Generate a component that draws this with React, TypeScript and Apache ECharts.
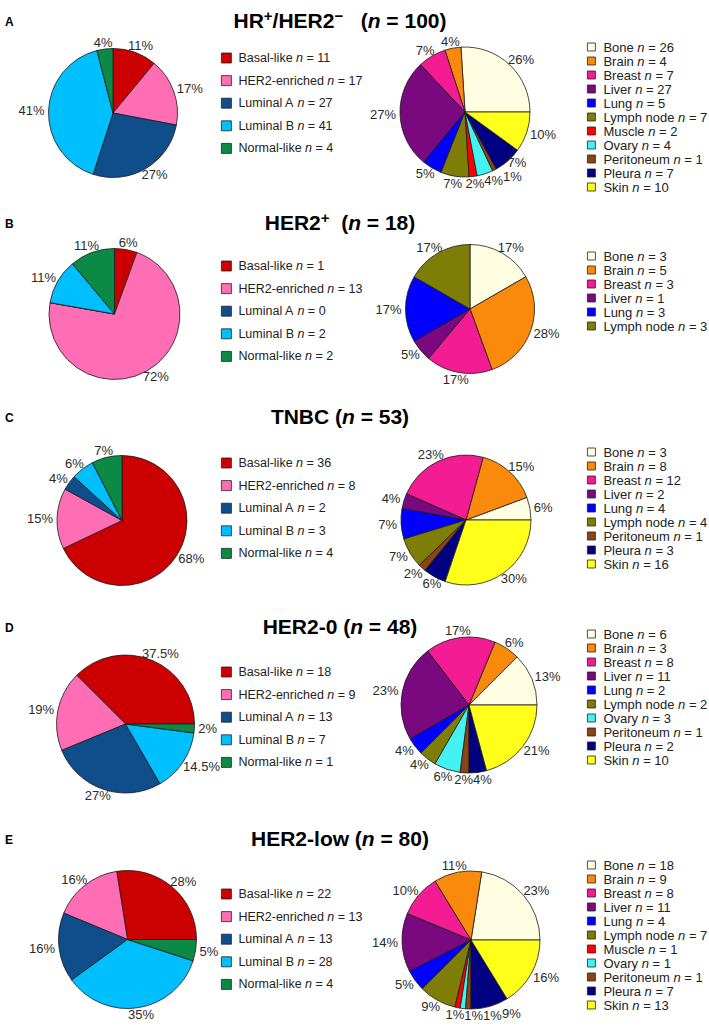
import React, { useEffect, useRef } from "react";
import * as echarts from "echarts";

// ---------- categories ----------
const SUBTYPES = ["Basal-like", "HER2-enriched", "Luminal A", "Luminal B", "Normal-like"];
const SITES_ALL = ["Bone", "Brain", "Breast", "Liver", "Lung", "Lymph node", "Muscle", "Ovary", "Peritoneum", "Pleura", "Skin"];

// ---------- panel A: HR+/HER2- (n = 100) ----------
const A_SUB_N = [11, 17, 27, 41, 4];
const A_SUB_LABELS = ["11%", "17%", "27%", "41%", "4%"];
const A_SITES = SITES_ALL;
const A_SITE_N = [26, 4, 7, 27, 5, 7, 2, 4, 1, 7, 10];
const A_SITE_LABELS = ["26%", "4%", "7%", "27%", "5%", "7%", "2%", "4%", "1%", "7%", "10%"];

// ---------- panel B: HER2+ (n = 18) ----------
const B_SUB_N = [1, 13, 0, 2, 2];
const B_SUB_LABELS = ["6%", "72%", "", "11%", "11%"];
const B_SITES = ["Bone", "Brain", "Breast", "Liver", "Lung", "Lymph node"];
const B_SITE_N = [3, 5, 3, 1, 3, 3];
const B_SITE_LABELS = ["17%", "28%", "17%", "5%", "17%", "17%"];

// ---------- panel C: TNBC (n = 53) ----------
const C_SUB_N = [36, 8, 2, 3, 4];
const C_SUB_LABELS = ["68%", "15%", "4%", "6%", "7%"];
const C_SITES = ["Bone", "Brain", "Breast", "Liver", "Lung", "Lymph node", "Peritoneum", "Pleura", "Skin"];
const C_SITE_N = [3, 8, 12, 2, 4, 4, 1, 3, 16];
const C_SITE_LABELS = ["6%", "15%", "23%", "4%", "7%", "7%", "2%", "6%", "30%"];

// ---------- panel D: HER2-0 (n = 48) ----------
const D_SUB_N = [18, 9, 13, 7, 1];
const D_SUB_LABELS = ["37.5%", "19%", "27%", "14.5%", "2%"];
const D_SITES = ["Bone", "Brain", "Breast", "Liver", "Lung", "Lymph node", "Ovary", "Peritoneum", "Pleura", "Skin"];
const D_SITE_N = [6, 3, 8, 11, 2, 2, 3, 1, 2, 10];
const D_SITE_LABELS = ["13%", "6%", "17%", "23%", "4%", "4%", "6%", "2%", "4%", "21%"];

// ---------- panel E: HER2-low (n = 80) ----------
const E_SUB_N = [22, 13, 13, 28, 4];
const E_SUB_LABELS = ["28%", "16%", "16%", "35%", "5%"];
const E_SITES = SITES_ALL;
const E_SITE_N = [18, 9, 8, 11, 4, 7, 1, 1, 1, 7, 13];
const E_SITE_LABELS = ["23%", "11%", "10%", "14%", "5%", "9%", "1%", "1%", "1%", "9%", "16%"];

// ---------- styles ----------
const COLORS: Record<string, string> = {
  "Basal-like": "#CC0000",
  "HER2-enriched": "#FF6EB4",
  "Luminal A": "#104E8B",
  "Luminal B": "#00BFFF",
  "Normal-like": "#0A8A45",
  "Bone": "#FFFDE2",
  "Brain": "#FA8A0C",
  "Breast": "#F41C93",
  "Liver": "#7A087E",
  "Lung": "#0000FF",
  "Lymph node": "#7E7E06",
  "Muscle": "#FF0000",
  "Ovary": "#44F2F2",
  "Peritoneum": "#8B4513",
  "Pleura": "#000080",
  "Skin": "#FFFF1A",
};

const FONT = "'Liberation Sans', Arial, Helvetica, sans-serif";
const LABEL_FS = 13;
const RING_GAP = 4; // label distance outside the pie edge
const LABEL_H = 14; // label height used for collision tests

type Panel = {
  letter: string;
  title: string;
  titleY: number;
  subN: number[];
  subLabels: string[];
  subCenter: [number, number];
  subR: number;
  subStart: number;
  subClockwise: boolean;
  subLegendTop: number;
  sites: string[];
  siteN: number[];
  siteLabels: string[];
  siteCenter: [number, number];
  siteR: number;
  siteStart: number;
  siteClockwise: boolean;
  siteLegendTop: number;
};

const PANELS: Panel[] = [
  {
    letter: "A",
    title: "{b|HR}{sup|+}{b|/HER2}{sup|\u2212}{b|   (}{i|n}{b| = 100)}",
    titleY: 20,
    subN: A_SUB_N, subLabels: A_SUB_LABELS, subCenter: [113, 113], subR: 64.5, subStart: 90, subClockwise: true, subLegendTop: 51,
    sites: A_SITES, siteN: A_SITE_N, siteLabels: A_SITE_LABELS, siteCenter: [465, 112], siteR: 65, siteStart: 0, siteClockwise: false, siteLegendTop: 40,
  },
  {
    letter: "B",
    title: "{b|HER2}{sup|+}{b|  (}{i|n}{b| = 18)}",
    titleY: 222,
    subN: B_SUB_N, subLabels: B_SUB_LABELS, subCenter: [114.5, 314], subR: 65.5, subStart: 90, subClockwise: true, subLegendTop: 259,
    sites: B_SITES, siteN: B_SITE_N, siteLabels: B_SITE_LABELS, siteCenter: [470, 309], siteR: 64.5, siteStart: 90, siteClockwise: true, siteLegendTop: 249,
  },
  {
    letter: "C",
    title: "{b|TNBC (}{i|n}{b| = 53)}",
    titleY: 416,
    subN: C_SUB_N, subLabels: C_SUB_LABELS, subCenter: [122, 520.5], subR: 65, subStart: 90, subClockwise: true, subLegendTop: 456,
    sites: C_SITES, siteN: C_SITE_N, siteLabels: C_SITE_LABELS, siteCenter: [466, 520], siteR: 65, siteStart: 0, siteClockwise: false, siteLegendTop: 445,
  },
  {
    letter: "D",
    title: "{b|HER2-0 (}{i|n}{b| = 48)}",
    titleY: 626,
    subN: D_SUB_N, subLabels: D_SUB_LABELS, subCenter: [125.5, 724], subR: 69, subStart: 0, subClockwise: false, subLegendTop: 665,
    sites: D_SITES, siteN: D_SITE_N, siteLabels: D_SITE_LABELS, siteCenter: [469, 705], siteR: 68, siteStart: 0, siteClockwise: false, siteLegendTop: 627,
  },
  {
    letter: "E",
    title: "{b|HER2-low (}{i|n}{b| = 80)}",
    titleY: 838,
    subN: E_SUB_N, subLabels: E_SUB_LABELS, subCenter: [127.5, 939.5], subR: 69, subStart: 0, subClockwise: false, subLegendTop: 887,
    sites: E_SITES, siteN: E_SITE_N, siteLabels: E_SITE_LABELS, siteCenter: [471, 940], siteR: 69, siteStart: 0, siteClockwise: false, siteLegendTop: 858,
  },
];

let measureCtx: CanvasRenderingContext2D | null = null;
function textWidth(t: string): number {
  if (!measureCtx) {
    const c = document.createElement("canvas");
    measureCtx = c.getContext("2d");
  }
  if (!measureCtx) return t.length * 7.2;
  measureCtx.font = `${LABEL_FS}px ${FONT}`;
  return measureCtx.measureText(t).width;
}

// "Outside end" label anchors: each label sits just outside the pie along the
// slice's mid-angle, pushed out by half its width; colliding labels are nudged
// apart along the direction of travel round the pie.
function labelAnchors(
  values: number[],
  labels: string[],
  center: [number, number],
  r: number,
  startAngle: number,
  clockwise: boolean
) {
  const total = values.reduce((a, b) => a + b, 0) || 1;
  const dir = clockwise ? -1 : 1;
  let acc = 0;
  const out: ({ x: number; y: number } | null)[] = [];
  let prev: { x: number; y: number; w: number; x0: number; y0: number } | null = null;
  values.forEach((v, i) => {
    const span = (v / total) * 360;
    const mid = ((startAngle + dir * (acc + span / 2)) * Math.PI) / 180;
    acc += span;
    if (!labels[i]) {
      out.push(null);
      return;
    }
    const ux = Math.cos(mid);
    const uy = -Math.sin(mid);
    const w = textWidth(labels[i]);
    const x0 = center[0] + (r + RING_GAP) * ux + ux * (w / 2);
    const y0 = center[1] + (r + RING_GAP) * uy + uy * 3;
    let x = x0;
    let y = y0;
    if (prev) {
      const ox = Math.min(x + w / 2, prev.x + prev.w / 2) - Math.max(x - w / 2, prev.x - prev.w / 2);
      const oy = LABEL_H - Math.abs(y - prev.y);
      if (ox > 0 && oy > 0) {
        const useX = Math.abs(uy) > 0.6 ? !(oy < 0.5 * ox) : ox < 0.5 * oy;
        if (useX) {
          const s = x0 >= prev.x0 ? 1 : -1;
          x = s > 0 ? prev.x + prev.w / 2 + w / 2 : prev.x - prev.w / 2 - w / 2;
        } else {
          const s = y0 >= prev.y0 ? 1 : -1;
          y = s > 0 ? prev.y + LABEL_H : prev.y - LABEL_H;
        }
      }
    }
    prev = { x, y, w, x0, y0 };
    out.push({ x, y });
  });
  return out;
}

function makePie(
  names: string[],
  values: number[],
  center: [number, number],
  r: number,
  startAngle: number,
  clockwise: boolean
) {
  return {
    type: "pie",
    center,
    radius: r,
    startAngle,
    clockwise,
    stillShowZeroSum: true,
    itemStyle: { borderColor: "#1a1a1a", borderWidth: 0.8 },
    emphasis: { disabled: true },
    label: { show: false },
    labelLine: { show: false },
    data: names.map((name, i) => ({
      name,
      value: values[i],
      itemStyle: { color: COLORS[name] },
    })),
  };
}

// Transparent ring just outside the pie that carries the percentage labels.
function makeLabelRing(
  names: string[],
  values: number[],
  labels: string[],
  center: [number, number],
  r: number,
  startAngle: number,
  clockwise: boolean
) {
  const anchors = labelAnchors(values, labels, center, r, startAngle, clockwise);
  return {
    type: "pie",
    center,
    radius: [r, r + 2 * RING_GAP],
    startAngle,
    clockwise,
    silent: true,
    stillShowZeroSum: true,
    itemStyle: { color: "rgba(0,0,0,0)", borderWidth: 0 },
    emphasis: { disabled: true },
    label: {
      show: true,
      position: "inside",
      fontFamily: FONT,
      fontSize: LABEL_FS,
      color: "#2a2a2a",
      formatter: (p: any) => labels[p.dataIndex],
    },
    labelLine: { show: false },
    labelLayout: (params: any) => {
      const lr = params.labelRect;
      const a = anchors[params.dataIndex];
      if (!lr || !a) return {};
      return { dx: a.x - (lr.x + lr.width / 2), dy: a.y - (lr.y + lr.height / 2) };
    },
    data: names.map((name, i) => ({
      name,
      value: values[i],
      itemStyle: { color: "rgba(0,0,0,0)" },
      label: labels[i] ? {} : { show: false },
    })),
  };
}

function makeLegend(names: string[], values: number[], left: number, top: number, big: boolean) {
  const fs = big ? 12.5 : 13;
  const pad = big ? 2 : 3;
  return {
    orient: "vertical",
    left,
    top,
    padding: 0,
    icon: "rect",
    itemWidth: big ? 10 : 8,
    itemHeight: big ? 10 : 8,
    itemGap: big ? 8.6 : 0,
    selectedMode: false,
    itemStyle: { borderColor: "#222", borderWidth: 0.8 },
    data: names,
    formatter: (name: string) => {
      const i = names.indexOf(name);
      return `{f|${name} }{i|n}{t| = ${values[i]}}`;
    },
    textStyle: {
      fontFamily: FONT,
      fontSize: fs,
      color: "#222",
      lineHeight: 14,
      rich: {
        f: { fontFamily: FONT, fontSize: fs, color: "#222", lineHeight: 14, padding: [0, 0, 0, pad] },
        t: { fontFamily: FONT, fontSize: fs, color: "#222", lineHeight: 14 },
        i: { fontFamily: FONT, fontSize: fs, color: "#222", fontStyle: "italic", lineHeight: 14 },
      },
    },
  };
}

export default function App() {
  const ref = useRef<HTMLDivElement>(null);
  useEffect(() => {
    if (!ref.current) return;
    const chart = echarts.init(ref.current, undefined, { renderer: "svg" });
    const titles: any[] = [];
    const legends: any[] = [];
    const pies: any[] = [];
    const rings: any[] = [];
    PANELS.forEach((p) => {
      titles.push({
        text: p.title,
        left: 340,
        top: p.titleY,
        textAlign: "center",
        textVerticalAlign: "middle",
        padding: 0,
        textStyle: {
          fontFamily: FONT,
          fontSize: 21,
          fontWeight: "bold",
          color: "#000",
          rich: {
            b: { fontFamily: FONT, fontSize: 21, fontWeight: "bold", color: "#000" },
            i: { fontFamily: FONT, fontSize: 21, fontWeight: "bold", fontStyle: "italic", color: "#000" },
            sup: { fontFamily: FONT, fontSize: 15, fontWeight: "bold", color: "#000", padding: [0, 0, 10, 0] },
          },
        },
      });
      titles.push({
        text: p.letter,
        left: 5,
        top: p.titleY + 2,
        textVerticalAlign: "middle",
        textAlign: "left",
        padding: 0,
        textStyle: { fontFamily: FONT, fontSize: 12, fontWeight: "bold", color: "#000" },
      });
      legends.push(makeLegend(SUBTYPES, p.subN, 221, p.subLegendTop, true));
      legends.push(makeLegend(p.sites, p.siteN, 587, p.siteLegendTop, false));
      pies.push(makePie(SUBTYPES, p.subN, p.subCenter, p.subR, p.subStart, p.subClockwise));
      pies.push(makePie(p.sites, p.siteN, p.siteCenter, p.siteR, p.siteStart, p.siteClockwise));
      rings.push(makeLabelRing(SUBTYPES, p.subN, p.subLabels, p.subCenter, p.subR, p.subStart, p.subClockwise));
      rings.push(makeLabelRing(p.sites, p.siteN, p.siteLabels, p.siteCenter, p.siteR, p.siteStart, p.siteClockwise));
    });
    chart.setOption({
      animation: false,
      backgroundColor: "#fff",
      title: titles,
      legend: legends,
      series: [...pies, ...rings],
    });
    return () => chart.dispose();
  }, []);
  return (
    <div
      ref={ref}
      style={{ position: "absolute", left: 0, top: 0, width: 709, height: 1029, background: "#fff" }}
    />
  );
}
